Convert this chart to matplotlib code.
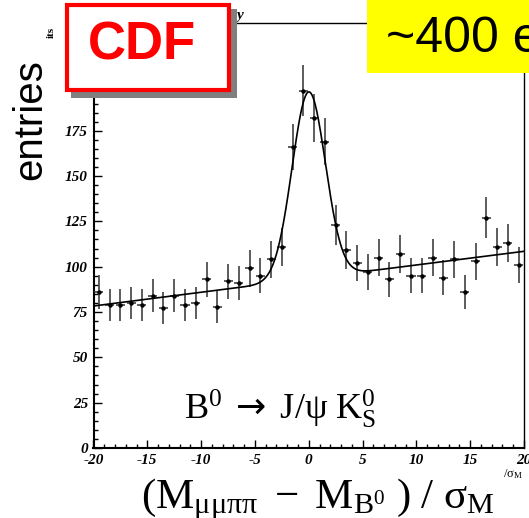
import numpy as np
import matplotlib
matplotlib.use("Agg")
import matplotlib.pyplot as plt
from matplotlib.patches import Rectangle

# ---- data ----
bin_centers = [-19.5, -18.5, -17.5, -16.5, -15.5, -14.5, -13.5, -12.5, -11.5, -10.5,
               -9.5, -8.5, -7.5, -6.5, -5.5, -4.5, -3.5, -2.5, -1.5, -0.5,
               0.5, 1.5, 2.5, 3.5, 4.5, 5.5, 6.5, 7.5, 8.5, 9.5,
               10.5, 11.5, 12.5, 13.5, 14.5, 15.5, 16.5, 17.5, 18.5, 19.5]
counts = [86, 79, 79, 80, 79, 84, 77, 84, 79, 80,
          93, 78, 92, 91, 99, 95, 104, 111, 166, 197,
          182, 169, 123, 109, 102, 97, 105, 93, 107, 95,
          95, 105, 94, 104, 86, 103, 127, 111, 113, 101]
# fit: linear background + gaussian
bkg_offset = 93.4
bkg_slope = 0.754
peak_amp = 103.0
peak_mean = 0.0
peak_sigma = 1.55

xticks = [-20, -15, -10, -5, 0, 5, 10, 15, 20]
yticks = [0, 25, 50, 75, 100, 125, 150, 175]

W, H, DPI = 529, 518, 100
plt.rcParams['mathtext.fontset'] = 'custom'
plt.rcParams['mathtext.rm'] = 'Liberation Serif'
plt.rcParams['mathtext.it'] = 'Liberation Serif:italic'
plt.rcParams['mathtext.bf'] = 'Liberation Serif:bold'
plt.rcParams['mathtext.sf'] = 'DejaVu Sans'

fig = plt.figure(figsize=(W / DPI, H / DPI), dpi=DPI)
fig.patch.set_facecolor('white')

def fx(x):
    return x / W

def fy(y):
    return 1 - y / H

ax = fig.add_axes([fx(93.5), fy(448), fx(524) - fx(93.5), fy(23) - fy(448)])
ax.set_xlim(-20, 20)
ax.set_ylim(0, 234.4)

cnt = np.array(counts, dtype=float)
ax.errorbar(bin_centers, cnt, yerr=np.sqrt(cnt), xerr=0.42, fmt='o', ms=2.2,
            color='black', ecolor='#303030', elinewidth=1.1, capsize=0, zorder=3)

xs = np.linspace(-20, 20, 801)
fit = bkg_offset + bkg_slope * xs + peak_amp * np.exp(-0.5 * ((xs - peak_mean) / peak_sigma) ** 2)
ax.plot(xs, fit, color='black', lw=1.2, zorder=4)

ax.set_xticks(xticks)
ax.set_yticks(yticks)
ax.set_xticks(np.arange(-20, 21, 1), minor=True)
ax.set_yticks(np.arange(0, 235, 5), minor=True)
ax.tick_params(which='both', direction='in', top=False, right=False, width=1.0)
ax.tick_params(which='major', length=5.8)
ax.tick_params(which='minor', length=2.8)
ax.tick_params(axis='y', pad=4)
ax.tick_params(axis='x', pad=4)
ax.set_xticklabels([str(t) for t in xticks], fontfamily='Liberation Serif',
                   fontstyle='italic', fontweight='bold', fontsize=11)
ax.set_yticklabels([str(t) for t in yticks], fontfamily='Liberation Serif',
                   fontstyle='italic', fontweight='bold', fontsize=11)
for s in ['left', 'bottom']:
    ax.spines[s].set_linewidth(1.5)
for s in ['top', 'right']:
    ax.spines[s].set_linewidth(1.0)

# decay label
fig.text(fx(280), fy(419), r'$\mathrm{B^0}\ \mathsf{\rightarrow}\ \mathrm{J/\psi\ K^0_S}$',
         fontsize=26, ha='center', va='baseline')

# x label
fig.text(fx(318), fy(508),
         r'$(\mathrm{M}_{\mathrm{\mu\mu\pi\pi}}\ -\ \mathrm{M}_{\mathrm{B^0}}\ )\ /\ \mathrm{\sigma}_{\mathrm{M}}$',
         fontsize=31, ha='center', va='baseline')

# fragment of original axis title at bottom right
fig.text(fx(503), fy(477), r'$/\mathrm{\sigma}_{\mathrm{M}}$', fontsize=9,
         ha='left', va='baseline', style='italic')

# y label
fig.text(fx(30), fy(120), 'entries', fontsize=29, family='Liberation Sans',
         rotation=90, ha='center', va='center')
fig.text(fx(51), fy(32), 'its', fontsize=8, family='Liberation Serif',
         fontweight='bold', rotation=90, ha='center', va='center')
# fragment of title
fig.text(fx(240), fy(19), 'y', fontsize=11, family='Liberation Serif',
         fontweight='bold', style='italic', ha='center', va='baseline')

# CDF box with shadow
fig.patches.append(Rectangle((fx(71), fy(98)), fx(237) - fx(71), fy(9) - fy(98),
                             transform=fig.transFigure, facecolor='#808080',
                             edgecolor='none', zorder=10))
fig.patches.append(Rectangle((fx(67), fy(90)), fx(229) - fx(67), fy(5) - fy(90),
                             transform=fig.transFigure, facecolor='white',
                             edgecolor='#ff0000', linewidth=3.0, zorder=11))
fig.text(fx(142), fy(45), 'CDF', fontsize=38, family='Liberation Sans',
         fontweight='bold', color='#ff0000', ha='center', va='center', zorder=12)

# yellow box
fig.patches.append(Rectangle((fx(367), fy(73)), fx(540) - fx(367), fy(-5) - fy(73),
                             transform=fig.transFigure, facecolor='#ffff00',
                             edgecolor='none', zorder=10))
fig.text(fx(386), fy(52), '~400 events', fontsize=36, family='Liberation Sans',
         color='black', ha='left', va='baseline', zorder=12)

fig.savefig('out.png', dpi=DPI)
